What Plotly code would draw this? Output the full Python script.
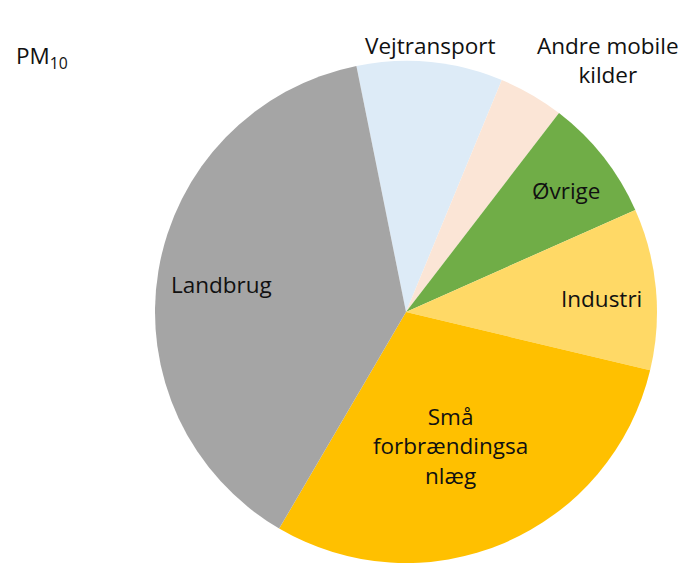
import plotly.graph_objects as go

labels = ["Vejtransport", "Andre mobile kilder", "Øvrige", "Industri", "Små forbrændingsanlæg", "Landbrug"]
display = ["Vejtransport", "Andre mobile<br>kilder", "Øvrige", "Industri", "Små<br>forbrændingsa<br>nlæg", "Landbrug"]
values = [9.4, 4.2, 7.9, 10.4, 29.7, 38.4]
colors = ["#DDEBF7", "#FBE5D6", "#70AD47", "#FFD966", "#FFC000", "#A5A5A5"]

W, H = 686, 566
OFF = 8  # page offset
cx, cy, r = 406 - OFF, 312 - OFF, 251

fig = go.Figure(go.Pie(
    labels=labels, values=values, sort=False, direction="clockwise",
    rotation=-11.4, marker=dict(colors=colors, line=dict(width=0)),
    textinfo="none", hoverinfo="label+percent", showlegend=False,
    domain=dict(x=[(cx - r) / W, (cx + r) / W], y=[(H - cy - r) / H, (H - cy + r) / H]),
))

label_pos = [(430, 45), (608, 60), (566, 190), (601, 298), (450, 446), (221, 285)]
font = dict(family="Open Sans", size=22.5, color="#111111")
for txt, (x, y) in zip(display, label_pos):
    fig.add_annotation(x=(x - OFF) / W, y=1 - (y - OFF) / H, xref="paper", yref="paper", text=txt,
                       showarrow=False, font=font, xanchor="center", yanchor="middle", align="center")

fig.add_annotation(x=(14 - OFF) / W, y=1 - (57 - OFF) / H, xref="paper", yref="paper",
                   text="PM<sub>10</sub>", showarrow=False, font=font,
                   xanchor="left", yanchor="middle")

fig.update_layout(width=W, height=H, margin=dict(l=0, r=0, t=0, b=0),
                  paper_bgcolor="white", plot_bgcolor="white")
fig.write_html("out.html")
